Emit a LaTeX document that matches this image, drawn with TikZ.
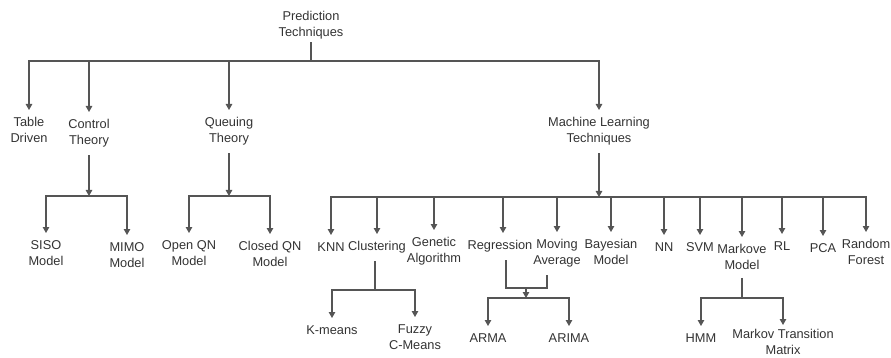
\documentclass[tikz,border=0pt]{standalone}
\usepackage{fontspec}
\setmainfont{Liberation Sans}
\usetikzlibrary{arrows.meta,positioning,calc}
\definecolor{linegray}{HTML}{555555}
\definecolor{textgray}{HTML}{333333}
\tikzset{
    % Technique label style
    tech/.style={
        align=center,
        font=\fontsize{12.8}{16}\selectfont,
        text=textgray,
        inner xsep=1pt,
        inner ysep=7.5pt,
        anchor=north
    },
    % Connector styles
    branch/.style={
        -{Triangle[length=6pt, width=6.5pt]},
        line width=1.1pt,
        color=linegray
    },
    trunk/.style={
        line width=1.1pt,
        color=linegray
    }
}
\begin{document}
\begin{tikzpicture}[x=1pt, y=-1pt]
        \useasboundingbox (0,0) rectangle (891,358);

        % Root
        \node[tech, anchor=center, inner ysep=3pt] (root) at (311,25) {Prediction\\Techniques};
        \coordinate (rootj) at (311,61);

        % First level
        \node[tech] (tbl) at (29,110) {Table\\Driven};
        \node[tech] (ctl) at (89,112) {Control\\Theory};
        \node[tech] (que) at (229,110) {Queuing\\Theory};
        \node[tech] (mlt) at (599,110) {Machine Learning\\Techniques};

        \draw[trunk] (root) -- (rootj);
        \foreach \n in {tbl,ctl,que,mlt}
            \draw[branch] (rootj) -| (\n.north);

        % Control theory
        \coordinate (ctlj) at (89,196);
        \node[tech] (siso) at (46,233) {SISO\\Model};
        \node[tech] (mimo) at (127,235) {MIMO\\Model};
        \draw[branch] (ctl) -- (ctlj);
        \foreach \n in {siso,mimo}
            \draw[branch] (ctlj) -| (\n.north);

        % Queuing theory
        \coordinate (quej) at (229,196);
        \node[tech] (opqn) at (189,233) {Open QN\\Model};
        \node[tech] (clqn) at (270,234) {Closed QN\\Model};
        \draw[branch] (que) -- (quej);
        \foreach \n in {opqn,clqn}
            \draw[branch] (quej) -| (\n.north);

        % Machine learning techniques
        \coordinate (mlj) at (599,197);
        \node[tech] (knn) at (331,235) {KNN};
        \node[tech] (clus) at (377,234) {Clustering};
        \node[tech] (gen) at (434,230) {Genetic\\Algorithm};
        \node[tech] (reg) at (500,233) {Regression};
        \node[tech] (mavg) at (557,232) {Moving\\Average};
        \node[tech] (bay) at (611,232) {Bayesian\\Model};
        \node[tech] (nn) at (664,235) {NN};
        \node[tech] (svm) at (700,235) {SVM};
        \node[tech] (mark) at (742,237) {Markove\\Model};
        \node[tech] (rl) at (782,234) {RL};
        \node[tech] (pca) at (823,236) {PCA};
        \node[tech] (rf) at (866,232) {Random\\Forest};
        \draw[branch] (mlt) -- (mlj);
        \foreach \n in {knn,clus,gen,mavg,bay,nn,svm,mark,rl,pca,rf}
            \draw[branch] (mlj) -| (\n.north);
        \draw[branch] (mlj) -| ([xshift=3pt]reg.north);

        % Clustering
        \coordinate (clusj) at (375,290);
        \node[tech] (kmean) at (332,318) {K-means};
        \node[tech] (fuzzy) at (415,317) {Fuzzy\\C-Means};
        \draw[trunk] ([xshift=-2pt]clus.south) -- (clusj);
        \foreach \n in {kmean,fuzzy}
            \draw[branch] (clusj) -| (\n.north);

        % Regression and moving average
        \coordinate (regmaj) at (526,288);
        \coordinate (armaj) at (526,298);
        \node[tech] (arma) at (488,326) {ARMA};
        \node[tech] (arima) at (569,326) {ARIMA};
        \draw[trunk] ([xshift=6pt]reg.south) |- (regmaj) -| ([xshift=-10pt]mavg.south);
        \draw[branch] (regmaj) -- (armaj);
        \foreach \n in {arma,arima}
            \draw[branch] (armaj) -| (\n.north);

        % Markov model
        \coordinate (markj) at (742,298);
        \node[tech] (hmm) at (701,326) {HMM};
        \node[tech, inner ysep=4pt] (mtm) at (783,325) {Markov Transition\\Matrix};
        \draw[trunk] (mark) -- (markj);
        \foreach \n in {hmm,mtm}
            \draw[branch] (markj) -| (\n.north);

    \end{tikzpicture}
\end{document}
